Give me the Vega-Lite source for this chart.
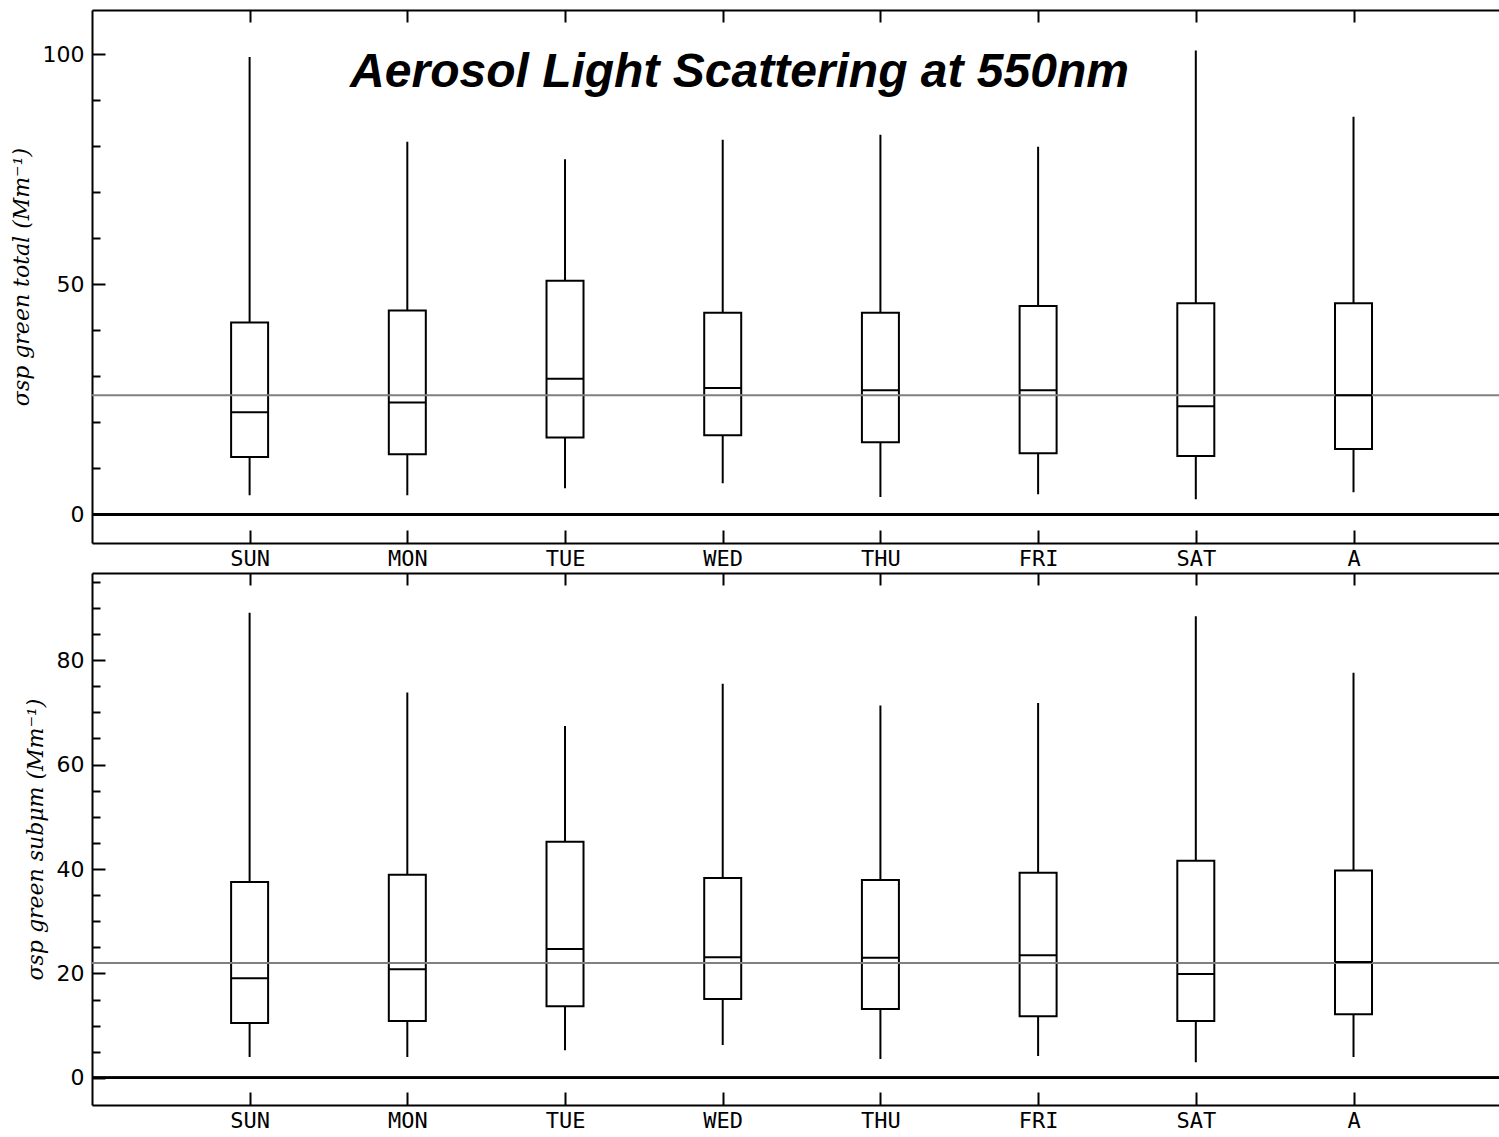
{
  "$schema": "https://vega.github.io/schema/vega-lite/v6.json",
  "background": "white",
  "padding": {"left": 10, "top": 9, "right": 0, "bottom": 0},
  "title": {
    "text": "Aerosol Light Scattering at 550nm",
    "font": "Liberation Sans",
    "fontSize": 48,
    "fontWeight": "bold",
    "fontStyle": "italic",
    "color": "black",
    "anchor": "middle",
    "frame": "group",
    "offset": -88,
    "dx": -56
  },
  "datasets": {
    "total": [
      {"day": "SUN", "low": 4.2, "q1": 12.5, "median": 22.2, "q3": 41.7, "high": 99.4},
      {"day": "MON", "low": 4.2, "q1": 13.1, "median": 24.3, "q3": 44.3, "high": 81.0},
      {"day": "TUE", "low": 5.7, "q1": 16.7, "median": 29.5, "q3": 50.8, "high": 77.2},
      {"day": "WED", "low": 6.8, "q1": 17.2, "median": 27.5, "q3": 43.8, "high": 81.4},
      {"day": "THU", "low": 3.8, "q1": 15.7, "median": 27.0, "q3": 43.8, "high": 82.5},
      {"day": "FRI", "low": 4.4, "q1": 13.3, "median": 27.0, "q3": 45.3, "high": 79.9},
      {"day": "SAT", "low": 3.3, "q1": 12.7, "median": 23.5, "q3": 45.9, "high": 100.8},
      {"day": "A", "low": 4.8, "q1": 14.2, "median": 25.9, "q3": 45.9, "high": 86.4}
    ],
    "subum": [
      {"day": "SUN", "low": 4.0, "q1": 10.5, "median": 19.1, "q3": 37.5, "high": 89.1},
      {"day": "MON", "low": 4.0, "q1": 10.9, "median": 20.8, "q3": 38.9, "high": 73.8},
      {"day": "TUE", "low": 5.3, "q1": 13.7, "median": 24.7, "q3": 45.2, "high": 67.4},
      {"day": "WED", "low": 6.3, "q1": 15.1, "median": 23.1, "q3": 38.3, "high": 75.5},
      {"day": "THU", "low": 3.6, "q1": 13.2, "median": 23.0, "q3": 37.9, "high": 71.3},
      {"day": "FRI", "low": 4.2, "q1": 11.8, "median": 23.5, "q3": 39.3, "high": 71.8},
      {"day": "SAT", "low": 3.0, "q1": 10.9, "median": 19.9, "q3": 41.6, "high": 88.4},
      {"day": "A", "low": 4.0, "q1": 12.2, "median": 22.2, "q3": 39.7, "high": 77.6}
    ],
    "overall": [
      {"panel": "total", "median": 25.9},
      {"panel": "subum", "median": 22.0}
    ]
  },
  "bounds": "flush",
  "spacing": 30,
  "vconcat": [
    {
      "width": 1407,
      "height": 533,
      "view": {"stroke": null},
      "data": {"name": "total"},
      "resolve": {"axis": {"x": "independent", "y": "independent"}},
      "layer": [
        {
          "mark": {"type": "rule", "color": "black", "strokeWidth": 2},
          "encoding": {
            "x": {
              "field": "day", "type": "nominal", "sort": null,
              "scale": {"type": "point", "domain": ["SUN", "MON", "TUE", "WED", "THU", "FRI", "SAT", "A"], "padding": 0.961, "align": 0.52},
              "axis": {"orient": "bottom", "title": null, "labelAngle": 0, "domainColor": "black", "domainWidth": 2, "tickColor": "black", "tickWidth": 2, "tickSize": -13, "labelFont": "DejaVu Sans Mono", "labelFontSize": 22, "labelColor": "black", "labelPadding": 18}
            },
            "y": {
              "field": "low", "type": "quantitative",
              "scale": {"domain": [-6.2, 109.6], "nice": false, "zero": false},
              "axis": {
                "orient": "left",
                "title": "σsp green total (Mm⁻¹)",
                "titleFont": "DejaVu Serif", "titleFontStyle": "italic", "titleFontWeight": "normal", "titleFontSize": 22, "titleColor": "black", "titlePadding": 9,
                "values": [0, 50, 100],
                "labelFont": "DejaVu Sans", "labelFontSize": 22, "labelColor": "black", "labelPadding": 21,
                "grid": false, "domainColor": "black", "domainWidth": 2, "tickColor": "black", "tickWidth": 2, "tickSize": -13
              }
            },
            "y2": {"field": "high"}
          }
        },
        {
          "mark": {"type": "bar", "width": 37, "fill": "white", "stroke": "black", "strokeWidth": 2},
          "encoding": {
            "x": {"field": "day", "type": "nominal", "sort": null, "axis": null},
            "y": {"field": "q1", "type": "quantitative",
              "axis": {"orient": "left", "title": null, "labels": false, "domain": false, "grid": false,
                "values": [10, 20, 30, 40, 60, 70, 80, 90],
                "tickColor": "black", "tickWidth": 2, "tickSize": -8}},
            "y2": {"field": "q3"}
          }
        },
        {
          "data": {"name": "overall"},
          "transform": [{"filter": "datum.panel === 'total'"}],
          "mark": {"type": "rule", "color": "#808080", "strokeWidth": 2},
          "encoding": {"y": {"field": "median", "type": "quantitative", "axis": null}}
        },
        {
          "mark": {"type": "tick", "color": "black", "opacity": 1, "size": 37, "thickness": 2},
          "encoding": {
            "x": {"field": "day", "type": "nominal", "sort": null,
              "axis": {"orient": "top", "title": null, "labels": false, "domainColor": "black", "domainWidth": 2, "tickColor": "black", "tickWidth": 2, "tickSize": -12}},
            "y": {"field": "median", "type": "quantitative", "axis": null}
          }
        },
        {
          "mark": {"type": "rule", "color": "black", "strokeWidth": 2},
          "encoding": {"y": {"datum": 0, "axis": null}}
        }
      ]
    },
    {
      "width": 1407,
      "height": 532,
      "view": {"stroke": null},
      "data": {"name": "subum"},
      "resolve": {"axis": {"x": "independent", "y": "independent"}},
      "layer": [
        {
          "mark": {"type": "rule", "color": "black", "strokeWidth": 2},
          "encoding": {
            "x": {
              "field": "day", "type": "nominal", "sort": null,
              "scale": {"type": "point", "domain": ["SUN", "MON", "TUE", "WED", "THU", "FRI", "SAT", "A"], "padding": 0.961, "align": 0.52},
              "axis": {"orient": "bottom", "title": null, "labelAngle": 0, "domainColor": "black", "domainWidth": 2, "tickColor": "black", "tickWidth": 2, "tickSize": -13, "labelFont": "DejaVu Sans Mono", "labelFontSize": 22, "labelColor": "black", "labelPadding": 18}
            },
            "y": {
              "field": "low", "type": "quantitative",
              "scale": {"domain": [-5.2, 96.7], "nice": false, "zero": false},
              "axis": {
                "orient": "left",
                "title": "σsp green subμm (Mm⁻¹)",
                "titleFont": "DejaVu Serif", "titleFontStyle": "italic", "titleFontWeight": "normal", "titleFontSize": 22, "titleColor": "black", "titlePadding": 9,
                "values": [0, 20, 40, 60, 80],
                "labelFont": "DejaVu Sans", "labelFontSize": 22, "labelColor": "black", "labelPadding": 21,
                "grid": false, "domainColor": "black", "domainWidth": 2, "tickColor": "black", "tickWidth": 2, "tickSize": -13
              }
            },
            "y2": {"field": "high"}
          }
        },
        {
          "mark": {"type": "bar", "width": 37, "fill": "white", "stroke": "black", "strokeWidth": 2},
          "encoding": {
            "x": {"field": "day", "type": "nominal", "sort": null, "axis": null},
            "y": {"field": "q1", "type": "quantitative",
              "axis": {"orient": "left", "title": null, "labels": false, "domain": false, "grid": false,
                "values": [5, 10, 15, 25, 30, 35, 45, 50, 55, 65, 70, 75, 85, 90, 95],
                "tickColor": "black", "tickWidth": 2, "tickSize": -8}},
            "y2": {"field": "q3"}
          }
        },
        {
          "data": {"name": "overall"},
          "transform": [{"filter": "datum.panel === 'subum'"}],
          "mark": {"type": "rule", "color": "#808080", "strokeWidth": 2},
          "encoding": {"y": {"field": "median", "type": "quantitative", "axis": null}}
        },
        {
          "mark": {"type": "tick", "color": "black", "opacity": 1, "size": 37, "thickness": 2},
          "encoding": {
            "x": {"field": "day", "type": "nominal", "sort": null,
              "axis": {"orient": "top", "title": null, "labels": false, "domainColor": "black", "domainWidth": 2, "tickColor": "black", "tickWidth": 2, "tickSize": -12}},
            "y": {"field": "median", "type": "quantitative", "axis": null}
          }
        },
        {
          "mark": {"type": "rule", "color": "black", "strokeWidth": 2},
          "encoding": {"y": {"datum": 0, "axis": null}}
        }
      ]
    }
  ]
}
